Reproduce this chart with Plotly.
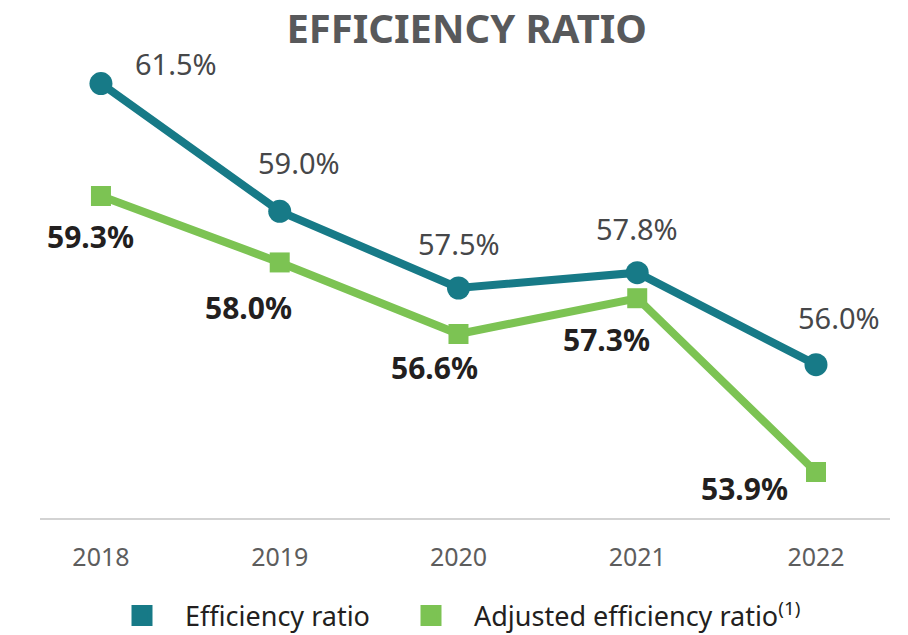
import plotly.graph_objects as go

# Chart data
years = ["2018", "2019", "2020", "2021", "2022"]
efficiency_ratio = [61.5, 59.0, 57.5, 57.8, 56.0]
adjusted_efficiency_ratio = [59.3, 58.0, 56.6, 57.3, 53.9]

TEAL = "#177a87"
GREEN = "#7cc353"
FONT = "Noto Sans"

# Label offsets (pixels) around each point
eff_offsets = [(75, 20), (19, 49), (1, 45), (0, 44), (23, 47)]
adj_offsets = [(-10, -40), (-31, -45), (-24, -33), (-31, -41), (-71, -16)]

x_idx = list(range(len(years)))

fig = go.Figure()

fig.add_trace(go.Scatter(
    x=x_idx, y=efficiency_ratio, mode="lines+markers",
    line=dict(color=TEAL, width=8),
    marker=dict(symbol="circle", size=23, color=TEAL),
    showlegend=False, hoverinfo="skip",
))
fig.add_trace(go.Scatter(
    x=x_idx, y=adjusted_efficiency_ratio, mode="lines+markers",
    line=dict(color=GREEN, width=8),
    marker=dict(symbol="square", size=20, color=GREEN),
    showlegend=False, hoverinfo="skip",
))

# Legend entries shown as plain squares, one legend box each
fig.add_trace(go.Scatter(
    x=[None], y=[None], mode="markers", name="Efficiency ratio",
    marker=dict(symbol="square", size=16, color=TEAL,
                line=dict(color=TEAL, width=5)),
    legend="legend",
))
fig.add_trace(go.Scatter(
    x=[None], y=[None], mode="markers",
    name="Adjusted efficiency ratio<sup>(1)</sup>",
    marker=dict(symbol="square", size=16, color=GREEN,
                line=dict(color=GREEN, width=5)),
    legend="legend2",
))

annotations = []
for i, v in enumerate(efficiency_ratio):
    dx, dy = eff_offsets[i]
    annotations.append(dict(
        x=i, y=v, text=f"{v:.1f}%", showarrow=False,
        xshift=dx, yshift=dy,
        font=dict(family=FONT, size=29, color="#464749"),
    ))
for i, v in enumerate(adjusted_efficiency_ratio):
    dx, dy = adj_offsets[i]
    annotations.append(dict(
        x=i, y=v, text=f"<b>{v:.1f}%</b>", showarrow=False,
        xshift=dx, yshift=dy,
        font=dict(family=FONT, size=30, color="#231f20"),
    ))

legend_style = dict(
    orientation="h", xref="container", yref="container",
    xanchor="left", y=0.03, yanchor="middle",
    font=dict(family=FONT, size=27, color="#231f20"),
    itemwidth=76, bgcolor="rgba(0,0,0,0)",
)

fig.update_layout(
    width=908, height=635,
    paper_bgcolor="white", plot_bgcolor="white",
    margin=dict(l=40, r=18, t=58, b=117),
    title=dict(
        text="<b>EFFICIENCY RATIO</b>", x=0.514, xanchor="center",
        y=0.955, yanchor="middle",
        font=dict(family=FONT, size=40, color="#58595b"),
    ),
    xaxis=dict(
        range=[-0.341, 4.414], tickmode="array", tickvals=x_idx, ticktext=years,
        showgrid=False, zeroline=False, showline=True, linecolor="#d3d3d3",
        linewidth=2, ticks="", ticklabelstandoff=16,
        tickfont=dict(family=FONT, size=25, color="#5d5d5d"),
    ),
    yaxis=dict(
        range=[53.0, 62.0], visible=False, showgrid=False, zeroline=False,
    ),
    legend=dict(legend_style, x=99 / 908),
    legend2=dict(legend_style, x=388 / 908),
    annotations=annotations,
)

fig.write_html("out.html")
